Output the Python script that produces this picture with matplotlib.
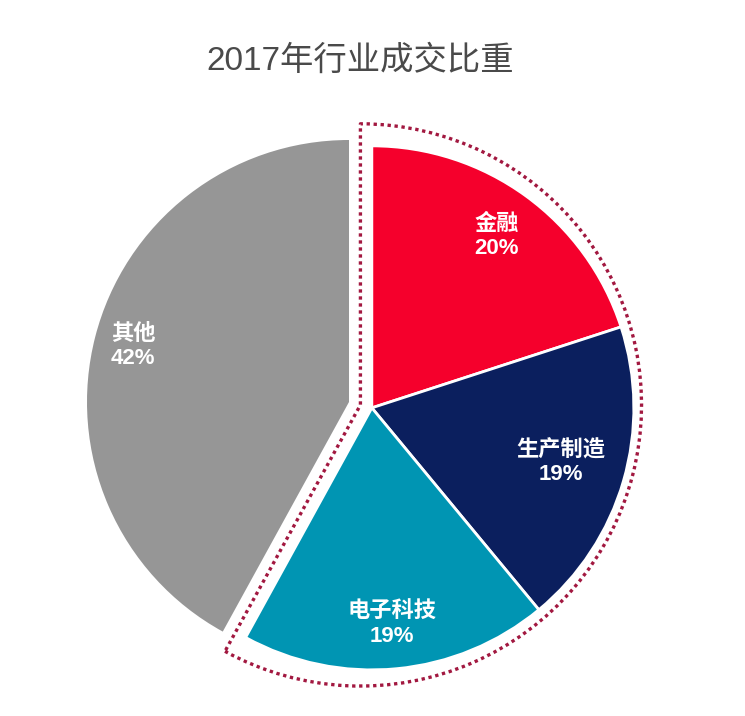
import matplotlib.pyplot as plt
import numpy as np
from matplotlib.patches import Wedge

plt.rcParams['font.family'] = ['Liberation Sans', 'Noto Sans CJK SC', 'DejaVu Sans']

title = '2017年行业成交比重'
labels = ['金融', '生产制造', '电子科技', '其他']
shares = [20, 19, 19, 42]
colors = ['#f5002c', '#0b1f5e', '#0095b3', '#969696']
highlight = [True, True, True, False]

fig = plt.figure(figsize=(7.45, 7.16), dpi=100)
ax = fig.add_axes([0, 0, 1, 1])

wedges, _ = ax.pie(shares, colors=colors, startangle=90, counterclock=False,
                   radius=1.0, wedgeprops=dict(linewidth=0))

# group mid angle of the highlighted slices, they get shifted together
total = sum(shares)
hl_share = sum(s for s, h in zip(shares, highlight) if h)
mid = np.deg2rad(90 - 360 * hl_share / total / 2)
shift = 0.09
dx, dy = shift * np.cos(mid), shift * np.sin(mid)

for w, h in zip(wedges, highlight):
    if h:
        w.set_center((dx, dy))
        w.set_edgecolor('white')
        w.set_linewidth(2)

# dotted outline around the highlighted group
ox, oy = dx / 2, dy / 2
outline = Wedge((ox, oy), 1.073, 90 - 360 * hl_share / total, 90,
                fill=False, edgecolor='#a21840', linewidth=2.4,
                linestyle=(0, (1, 1.1)), capstyle='butt', joinstyle='round')
ax.add_patch(outline)

# labels inside slices
label_r = [0.81, 0.75, 0.83, 0.85]
for w, lab, s, r, h in zip(wedges, labels, shares, label_r, highlight):
    ang = np.deg2rad((w.theta1 + w.theta2) / 2)
    cx, cy = w.center
    ax.text(cx + r * np.cos(ang), cy + r * np.sin(ang), f'{lab}\n{s}%',
            ha='center', va='center', color='white', fontsize=16,
            fontweight='bold', linespacing=1.2)

fig.text(0.483, 0.915, title, ha='center', va='center', fontsize=24,
         color='#4a4a4a')

ax.set_aspect('auto')
ax.set_xlim(-349 / 262, (745 - 349) / 262)
ax.set_ylim((402 - 716) / 262, 402 / 262)
ax.axis('off')

fig.savefig('out.png', dpi=100, facecolor='white')
